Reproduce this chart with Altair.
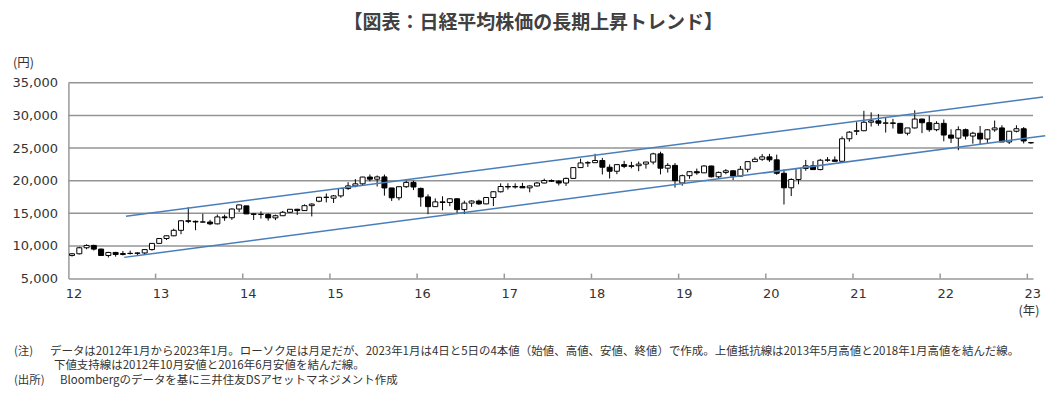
import altair as alt
import pandas as pd

# ---- monthly candles: Jan 2012 .. Jan 2023 (Nikkei 225, yen) ----
opens = [
    8549, 8802, 9723, 10083, 9520, 8543, 9006, 8695, 8839, 8870, 8928, 9446,
    10395, 11138, 11559, 12398, 13860, 13774, 13677, 13668, 13389, 14456, 14327, 15662,
    16147, 14915, 14841, 14828, 14304, 14632, 15162, 15621, 15425, 16174, 16860, 17460,
    17325, 17674, 18798, 19207, 19520, 20563, 20236, 20585, 18890, 17388, 19083, 19747,
    18818, 17518, 16027, 16759, 16666, 17235, 15576, 16569, 16887, 16450, 17425, 18308,
    19114, 19041, 19119, 18909, 19197, 19651, 20033, 19925, 19646, 20356, 22012, 22725,
    22765, 23098, 22068, 21454, 22468, 22202, 22305, 22554, 22865, 24120, 21920, 22351,
    19655, 20773, 21385, 21206, 22259, 20601, 21276, 21522, 20704, 21756, 22927, 23294,
    23657, 23205, 21143, 18917, 20194, 21878, 22288, 21710, 23140, 23185, 22977, 26434,
    27575, 27663, 28966, 29179, 28813, 28860, 28792, 27284, 28090, 29453, 28893, 27822,
    28792, 27002, 26527, 27821, 26848, 27280, 26393, 27802, 28092, 25937, 27587, 27969,
    25834,
]
highs = [
    8900, 9866, 10255, 10190, 9600, 9100, 9100, 9222, 9288, 9036, 9500, 10433,
    11191, 11600, 12650, 13980, 15942, 13900, 14953, 14000, 14818, 14800, 15750, 16320,
    16164, 15000, 15300, 15000, 14800, 15376, 15650, 15700, 16374, 16533, 17520, 18030,
    17800, 18800, 19778, 20252, 20600, 20953, 20800, 20946, 18900, 19100, 20012, 20013,
    18951, 17905, 17291, 17613, 17251, 17300, 16938, 17000, 17100, 17500, 18400, 19592,
    19615, 19600, 19668, 19300, 19800, 20318, 20200, 20100, 20481, 22012, 23382, 23000,
    24129, 23500, 22502, 22500, 23050, 22900, 22949, 22900, 24286, 24448, 22700, 22698,
    20941, 21464, 21860, 22362, 22300, 21400, 21784, 21600, 22255, 22974, 23608, 24091,
    24115, 23995, 21719, 20365, 21916, 23185, 23000, 23338, 23622, 23725, 26800, 27602,
    28979, 30714, 30485, 30208, 29685, 29480, 28852, 28100, 30795, 29500, 29960, 29121,
    29388, 27880, 28338, 28000, 27500, 28389, 27900, 29222, 28500, 27600, 28502, 28226,
    25900,
]
lows = [
    8378, 8700, 9500, 9300, 8500, 8238, 8365, 8550, 8700, 8488, 8619, 9300,
    10400, 10926, 11500, 11800, 13500, 12415, 13600, 13188, 13300, 13853, 14000, 15200,
    14900, 13995, 14200, 13885, 13964, 14600, 15100, 14753, 15400, 14529, 16700, 16672,
    16592, 17400, 18600, 19000, 19259, 19900, 19115, 17714, 16901, 17000, 18900, 18562,
    16017, 14865, 16000, 15471, 16100, 14864, 14900, 16000, 16300, 16400, 16111, 18200,
    18650, 18800, 18909, 18224, 19100, 19600, 19800, 19280, 19200, 20356, 21972, 22119,
    22765, 20950, 20347, 21000, 21931, 21900, 21462, 21851, 22500, 20971, 21243, 18948,
    19241, 20300, 20911, 21200, 20500, 20289, 21000, 20110, 20600, 21300, 22900, 23044,
    22892, 20916, 16358, 17646, 19448, 21530, 21710, 21600, 22900, 22948, 22948, 26000,
    27000, 27600, 28308, 28419, 27385, 28000, 27272, 26954, 28000, 27293, 27500, 27588,
    26044, 25775, 24682, 26319, 25688, 25520, 25800, 27500, 25938, 25621, 27400, 25716,
    25661,
]
closes = [
    8802, 9723, 10083, 9520, 8543, 9006, 8695, 8839, 8870, 8928, 9446, 10395,
    11138, 11559, 12398, 13860, 13774, 13677, 13668, 13389, 14456, 14327, 15662, 16291,
    14915, 14841, 14828, 14304, 14632, 15162, 15621, 15425, 16174, 16414, 17460, 17451,
    17674, 18798, 19207, 19520, 20563, 20236, 20585, 18890, 17388, 19083, 19747, 19034,
    17518, 16027, 16759, 16666, 17235, 15576, 16569, 16887, 16450, 17425, 18308, 19114,
    19041, 19119, 18909, 19197, 19651, 20033, 19925, 19646, 20356, 22012, 22725, 22765,
    23098, 22068, 21454, 22468, 22202, 22305, 22554, 22865, 24120, 21920, 22351, 20015,
    20773, 21385, 21206, 22259, 20601, 21276, 21522, 20704, 21756, 22927, 23294, 23657,
    23205, 21143, 18917, 20194, 21878, 22288, 21710, 23140, 23185, 22977, 26434, 27444,
    27663, 28966, 29179, 28813, 28860, 28792, 27284, 28090, 29453, 28893, 27822, 28792,
    27002, 26527, 27821, 26848, 27280, 26393, 27802, 28092, 25937, 27587, 27969, 26095,
    25820,
]
start_year = 12  # two-digit year of first candle (Jan 2012)

# ---- trend lines (x in two-digit years, y in yen) ----
upper_x = [12.66, 23.18]
upper_y = [14550, 32850]
lower_x = [12.64, 23.205]
lower_y = [8250, 26900]

year_ticks = list(range(12, 24))
y_ticks = [5000, 10000, 15000, 20000, 25000, 30000, 35000]

title_text = "【図表：日経平均株価の長期上昇トレンド】"
note_lines = [
    "(注)",
    "データは2012年1月から2023年1月。ローソク足は月足だが、2023年1月は4日と5日の4本値（始値、高値、安値、終値）で作成。上値抵抗線は2013年5月高値と2018年1月高値を結んだ線。",
    "下値支持線は2012年10月安値と2016年6月安値を結んだ線。",
    "(出所)",
    "Bloombergのデータを基に三井住友DSアセットマネジメント作成",
]

# ---- build tables ----
rows = []
for i, (o, h, l, c) in enumerate(zip(opens, highs, lows, closes)):
    rows.append({"t": start_year + (i + 0.5) / 12, "open": o, "high": h,
                 "low": l, "close": c, "up": "up" if c >= o else "down"})
df = pd.DataFrame(rows)

trend = pd.DataFrame(
    [{"line": "upper", "t": x, "v": y} for x, y in zip(upper_x, upper_y)]
    + [{"line": "lower", "t": x, "v": y} for x, y in zip(lower_x, lower_y)]
)

W, H = 966, 196
XMAX = start_year + W / 87.3
xscale = alt.Scale(domain=[start_year, XMAX], nice=False, zero=False, padding=0)
yscale = alt.Scale(domain=[5000, 35000], nice=False, zero=False)

FONT = "DejaVu Sans"
JP = "Noto Sans CJK JP"

xaxis = alt.Axis(values=year_ticks, format="d", grid=False, ticks=False,
                 labelFontSize=13, labelFont=FONT, labelColor="#333333",
                 labelPadding=9, labelOffset=5, domainColor="#999999",
                 domainWidth=1.5, title=None, labelFlush=False, labelOverlap=False)
yaxis = alt.Axis(values=y_ticks, format=",d", grid=False, ticks=False,
                 labelFontSize=13, labelFont=FONT, labelColor="#333333",
                 labelPadding=11, domainColor="#999999", domainWidth=1.5,
                 title=None, labelOverlap=False, labelFlush=False)

grid = alt.Chart(pd.DataFrame({"v": y_ticks[1:]})).mark_rule(
    color="#949494", strokeWidth=1.5).encode(
    y=alt.Y("v:Q", scale=yscale, axis=yaxis),
    x=alt.value(0),
    x2=alt.value(W),
)

base = alt.Chart(df)

wicks = base.mark_rule(color="black", strokeWidth=1).encode(
    x=alt.X("t:Q", scale=xscale, axis=xaxis),
    y=alt.Y("low:Q", scale=yscale, axis=yaxis),
    y2="high:Q",
)

bodies = base.mark_bar(size=5, stroke="black", strokeWidth=1).encode(
    x=alt.X("t:Q", scale=xscale, axis=xaxis),
    y=alt.Y("open:Q", scale=yscale, axis=yaxis),
    y2="close:Q",
    fill=alt.Fill("up:N", scale=alt.Scale(domain=["up", "down"], range=["white", "black"]),
                  legend=None),
)

lines = alt.Chart(trend).mark_line(color="#4a7ebb", strokeWidth=1.5, clip=False).encode(
    x=alt.X("t:Q", scale=xscale, axis=xaxis),
    y=alt.Y("v:Q", scale=yscale, axis=yaxis),
    detail="line:N",
)

ticks = alt.Chart(pd.DataFrame({"t": year_ticks[1:]})).mark_rule(
    color="#999999", strokeWidth=1.5).encode(
    x=alt.X("t:Q", scale=xscale, axis=xaxis),
    y=alt.value(H - 5),
    y2=alt.value(H),
)

def txt(text, x, y, size, align="left", weight="normal", color="#333333", font=JP):
    return alt.Chart(pd.DataFrame({"s": [text]})).mark_text(
        align=align, baseline="middle", fontSize=size, fontWeight=weight,
        color=color, font=font, clip=False,
    ).encode(text="s:N", x=alt.value(x), y=alt.value(y))

OX, OY = 60.5, 74.7  # plot origin relative to view (page offset 8)
NS = 11.5
annots = [
    txt(title_text, 534 - 8 - OX, 23 - 8 - OY, 19, align="center", weight="bold",
        color="#404040"),
    txt("(円)", 13 - 8 - OX, 63 - 8 - OY, 12.5, font=JP),
    txt("(年)", 1020 - 8 - OX, 311 - 8 - OY, 12.5, font=JP),
    txt(note_lines[0], 14 - 8 - OX, 352 - 8 - OY, NS),
    txt(note_lines[1], 50 - 8 - OX, 352 - 8 - OY, NS),
    txt(note_lines[2], 54 - 8 - OX, 366.5 - 8 - OY, NS),
    txt(note_lines[3], 14 - 8 - OX, 381 - 8 - OY, NS),
    txt(note_lines[4], 60 - 8 - OX, 381 - 8 - OY, NS),
]

chart = alt.layer(grid, wicks, bodies, lines, ticks, *annots).properties(
    width=W, height=H,
    autosize=alt.AutoSizeParams(type="none"),
    padding={"left": OX, "top": OY, "right": 18, "bottom": 110.3},
    background="white",
).configure_view(stroke=None)

chart.save("out.html", embed_options={"renderer": "svg", "actions": False})
